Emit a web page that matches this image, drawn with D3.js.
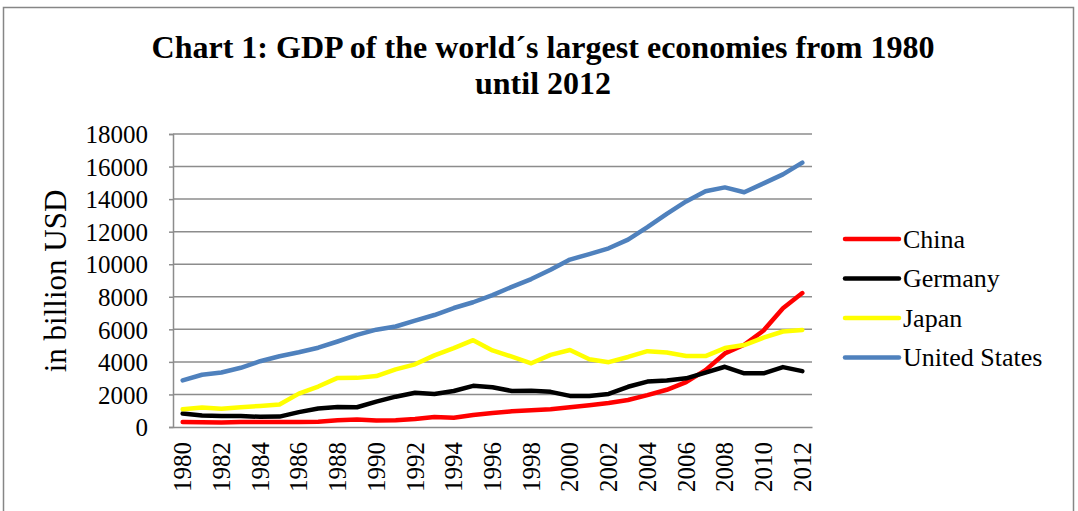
<!DOCTYPE html>
<html>
<head>
<meta charset="utf-8">
<script src="https://cdn.jsdelivr.net/npm/d3@7"></script>
<style>
  html, body { margin: 0; padding: 0; background: #fff; }
  svg { display: block; font-family: "Liberation Serif", "Times New Roman", serif; }
</style>
</head>
<body>
<svg id="chart" width="1078" height="511"></svg>
<script>
// GDP in billion USD
const years = d3.range(1980, 2013);
const tickYears = years.filter(y => y % 2 === 0);
const yTicks = [0, 2000, 4000, 6000, 8000, 10000, 12000, 14000, 16000, 18000];

const china = [305, 289, 284, 304, 314, 310, 301, 327, 410, 456, 394, 413, 492, 621, 564, 734, 863, 961, 1029, 1094, 1211, 1339, 1471, 1660, 1955, 2286, 2752, 3494, 4520, 5050, 5930, 7300, 8227];
const germany = [826, 707, 683, 676, 623, 640, 913, 1135, 1224, 1215, 1560, 1862, 2108, 2030, 2210, 2530, 2440, 2210, 2230, 2160, 1910, 1900, 2030, 2470, 2790, 2850, 2990, 3340, 3700, 3300, 3300, 3680, 3430];
const japan = [1087, 1201, 1117, 1218, 1295, 1385, 2051, 2485, 3016, 3018, 3130, 3540, 3850, 4400, 4850, 5334, 4706, 4324, 3915, 4433, 4731, 4160, 3981, 4303, 4656, 4572, 4357, 4356, 4849, 5035, 5488, 5867, 5964];
const usa = [2862, 3211, 3345, 3638, 4041, 4347, 4590, 4870, 5253, 5658, 5980, 6174, 6539, 6879, 7309, 7664, 8100, 8609, 9089, 9661, 10285, 10622, 10978, 11511, 12275, 13094, 13856, 14478, 14719, 14419, 14964, 15518, 16245];

const seriesNames = ["China", "Germany", "Japan", "United States"];
const seriesColors = ["#ff0000", "#000000", "#ffff00", "#4f81bd"];
const seriesValues = [china, germany, japan, usa];

const svg = d3.select("#chart");

// outer chart frame
svg.append("rect")
  .attr("x", 3.5).attr("y", 7.5)
  .attr("width", 1070).attr("height", 520)
  .attr("fill", "none").attr("stroke", "#868686").attr("stroke-width", 1.5);

const plotLeft = 173, plotRight = 812, plotTop = 134, plotBottom = 427;

const x = d3.scaleBand().domain(years).range([plotLeft, plotRight]);
const y = d3.scaleLinear().domain([0, 18000]).range([plotBottom, plotTop]);
const cx = d => x(d) + x.bandwidth() / 2;

// title
const title = svg.append("g").attr("font-weight", "bold").attr("font-size", 32)
  .attr("text-anchor", "middle");
title.append("text").attr("x", 543).attr("y", 58)
  .attr("textLength", 783).attr("lengthAdjust", "spacingAndGlyphs")
  .text("Chart 1: GDP of the world´s largest economies from 1980");
title.append("text").attr("x", 543).attr("y", 94).text("until 2012");

// gridlines
svg.append("g")
  .selectAll("line")
  .data(yTicks.filter(t => t > 0))
  .join("line")
  .attr("x1", plotLeft).attr("x2", plotRight)
  .attr("y1", d => y(d)).attr("y2", d => y(d))
  .attr("stroke", "#8c8c8c").attr("stroke-width", 1.5);

// y axis
const yAxis = svg.append("g")
  .attr("transform", `translate(${plotLeft},0)`)
  .call(d3.axisLeft(y).tickValues(yTicks).tickSize(4).tickPadding(21).tickFormat(d3.format("d")));
yAxis.select(".domain").attr("stroke", "#8c8c8c").attr("stroke-width", 1.5);
yAxis.selectAll(".tick line").attr("stroke", "#8c8c8c").attr("stroke-width", 1.5);
yAxis.selectAll("text")
  .attr("font-family", "Liberation Serif, Times New Roman, serif")
  .attr("font-size", 25).attr("fill", "#000").attr("dy", "0.35em");

// x axis
const xAxis = svg.append("g")
  .attr("transform", `translate(0,${plotBottom})`)
  .call(d3.axisBottom(x).tickValues(tickYears).tickSize(0).tickPadding(0));
xAxis.select(".domain").attr("stroke", "#8c8c8c").attr("stroke-width", 1.5);
xAxis.selectAll("text")
  .attr("font-family", "Liberation Serif, Times New Roman, serif")
  .attr("font-size", 25).attr("fill", "#000")
  .attr("text-anchor", "end")
  .attr("transform", "translate(0,15) rotate(-90)")
  .attr("x", 0).attr("y", 0).attr("dy", "0.34em");

// y axis title
svg.append("text")
  .attr("transform", "translate(66,281) rotate(-90)")
  .attr("text-anchor", "middle")
  .attr("font-size", 31)
  .text("in billion USD");

// lines
const line = d3.line()
  .x((d, i) => cx(years[i]))
  .y(d => y(d));

svg.append("g")
  .selectAll("path")
  .data(seriesValues)
  .join("path")
  .attr("d", d => line(d))
  .attr("fill", "none")
  .attr("stroke", (d, i) => seriesColors[i])
  .attr("stroke-width", 4.5)
  .attr("stroke-linejoin", "round")
  .attr("stroke-linecap", "round");

// legend
const legend = svg.append("g")
  .selectAll("g")
  .data(seriesNames)
  .join("g")
  .attr("transform", (d, i) => `translate(845,${239 + i * 39.5})`);
legend.append("line")
  .attr("x1", 0).attr("x2", 54)
  .attr("stroke", (d, i) => seriesColors[i])
  .attr("stroke-width", 4.5)
  .attr("stroke-linecap", "round");
legend.append("text")
  .attr("x", 58).attr("dy", "0.33em")
  .attr("font-size", 26)
  .text(d => d);
</script>
</body>
</html>
